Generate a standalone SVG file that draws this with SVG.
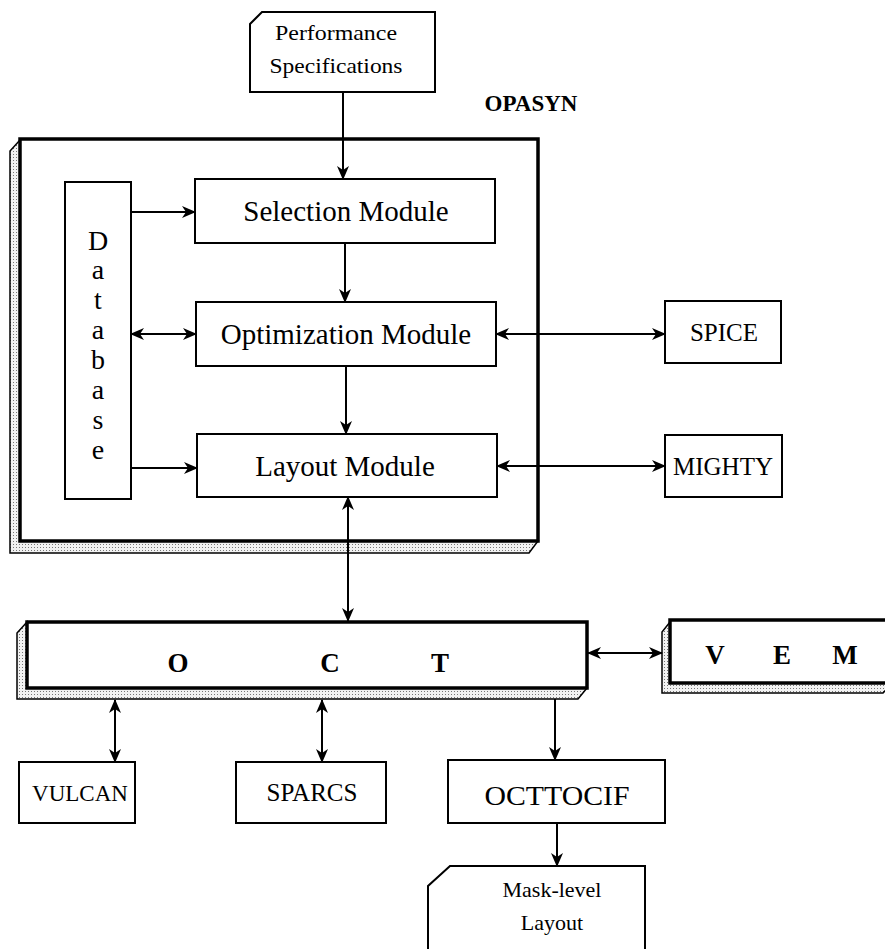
<svg xmlns="http://www.w3.org/2000/svg" width="885" height="949" viewBox="0 0 885 949">
<style>
  .box{fill:#fff;stroke:#000;stroke-width:2}
  .thick{fill:#fff;stroke:#000;stroke-width:3.5}
  .shadow{fill:url(#dots);stroke:#000;stroke-width:1.5}
  .t{font-family:"Liberation Serif","Times New Roman",serif;fill:#000;text-anchor:middle}
  .m{font-size:29px}
  .s{font-size:25px}
  .b{font-weight:bold}
  .ln{stroke:#000;stroke-width:2;fill:none}
</style>
<defs>
  <pattern id="dots" width="3" height="3" patternUnits="userSpaceOnUse">
    <rect width="3" height="3" fill="#f2f2f2"/>
    <rect x="1" y="1" width="1" height="1" fill="#777"/>
  </pattern>
  <marker id="ah" viewBox="0 0 14 12" refX="13" refY="6" markerWidth="14" markerHeight="12" markerUnits="userSpaceOnUse" orient="auto-start-reverse">
    <path d="M0,0 L14,6 L0,12 L4,6 z" fill="#000"/>
  </marker>
</defs>

<g id="perf-spec">
  <path class="box" d="M262,12 L435,12 L435,92 L250,92 L250,24 z"/>
  <text class="t" x="336" y="40" font-size="22" textLength="122" lengthAdjust="spacingAndGlyphs">Performance</text>
  <text class="t" x="336" y="73" font-size="22" textLength="133" lengthAdjust="spacingAndGlyphs">Specifications</text>
</g>

<g id="opasyn-label">
  <text class="t b" x="531" y="111" font-size="23">OPASYN</text>
</g>

<g id="opasyn-frame">
  <path class="shadow" d="M20,140 L10,151 L10,553 L529,553 L538,541 L20,541 z"/>
  <rect class="thick" x="20" y="139" width="518" height="402"/>
</g>

<g id="database">
  <rect class="box" x="65" y="182" width="66" height="317"/>
  <text class="t" font-size="28" x="98" y="250">D<tspan x="98" dy="29">a</tspan><tspan x="98" dy="30">t</tspan><tspan x="98" dy="30">a</tspan><tspan x="98" dy="30">b</tspan><tspan x="98" dy="30">a</tspan><tspan x="98" dy="30">s</tspan><tspan x="98" dy="30">e</tspan></text>
</g>

<g id="selection">
  <rect class="box" x="195" y="179" width="300" height="64"/>
  <text class="t m" x="346" y="221">Selection Module</text>
</g>

<g id="optimization">
  <rect class="box" x="196" y="302" width="300" height="64"/>
  <text class="t m" x="346" y="344">Optimization Module</text>
</g>

<g id="layout">
  <rect class="box" x="197" y="434" width="300" height="63"/>
  <text class="t m" x="345" y="476">Layout Module</text>
</g>

<g id="spice">
  <rect class="box" x="665" y="301" width="116" height="62"/>
  <text class="t s" x="724" y="341">SPICE</text>
</g>

<g id="mighty">
  <rect class="box" x="665" y="435" width="117" height="62"/>
  <text class="t s" x="723" y="475">MIGHTY</text>
</g>

<g id="oct">
  <path class="shadow" d="M27,622 L17,633 L17,699 L578,699 L587,688 L27,688 z"/>
  <rect class="thick" x="27" y="622" width="560" height="66"/>
  <text class="t b" x="178" y="672" font-size="27">O</text>
  <text class="t b" x="330" y="672" font-size="27">C</text>
  <text class="t b" x="440" y="672" font-size="27">T</text>
</g>

<g id="vem">
  <path class="shadow" d="M670,622 L662,632 L662,693 L883,693 L892,683 L670,683 z"/>
  <rect class="thick" x="670" y="620" width="230" height="63"/>
  <text class="t b" x="715" y="664" font-size="27">V</text>
  <text class="t b" x="782" y="664" font-size="27">E</text>
  <text class="t b" x="845" y="664" font-size="27">M</text>
</g>

<g id="vulcan">
  <rect class="box" x="19" y="762" width="116" height="61"/>
  <text class="t" x="80" y="801" font-size="23">VULCAN</text>
</g>

<g id="sparcs">
  <rect class="box" x="236" y="762" width="150" height="61"/>
  <text class="t s" x="312" y="801">SPARCS</text>
</g>

<g id="octtocif">
  <rect class="box" x="448" y="760" width="217" height="63"/>
  <text class="t" x="557" y="805" font-size="27" textLength="145" lengthAdjust="spacingAndGlyphs">OCTTOCIF</text>
</g>

<g id="mask-layout">
  <path class="box" d="M450,866 L645,866 L645,960 L428,960 L428,886 z"/>
  <text class="t" x="552" y="897" font-size="22">Mask-level</text>
  <text class="t" x="552" y="930" font-size="22">Layout</text>
</g>

<g id="connectors">
  <line class="ln" x1="343" y1="92" x2="343" y2="179" marker-end="url(#ah)"/>
  <line class="ln" x1="131" y1="212" x2="195" y2="212" marker-end="url(#ah)"/>
  <line class="ln" x1="345" y1="243" x2="345" y2="302" marker-end="url(#ah)"/>
  <line class="ln" x1="131" y1="334" x2="196" y2="334" marker-start="url(#ah)" marker-end="url(#ah)"/>
  <line class="ln" x1="496" y1="334" x2="665" y2="334" marker-start="url(#ah)" marker-end="url(#ah)"/>
  <line class="ln" x1="346" y1="366" x2="346" y2="434" marker-end="url(#ah)"/>
  <line class="ln" x1="131" y1="468" x2="197" y2="468" marker-end="url(#ah)"/>
  <line class="ln" x1="497" y1="466" x2="665" y2="466" marker-start="url(#ah)" marker-end="url(#ah)"/>
  <line class="ln" x1="348" y1="497" x2="348" y2="621" marker-start="url(#ah)" marker-end="url(#ah)"/>
  <line class="ln" x1="588" y1="653" x2="662" y2="653" marker-start="url(#ah)" marker-end="url(#ah)"/>
  <line class="ln" x1="115" y1="700" x2="115" y2="762" marker-start="url(#ah)" marker-end="url(#ah)"/>
  <line class="ln" x1="322" y1="700" x2="322" y2="762" marker-start="url(#ah)" marker-end="url(#ah)"/>
  <line class="ln" x1="555" y1="699" x2="555" y2="760" marker-end="url(#ah)"/>
  <line class="ln" x1="557" y1="823" x2="557" y2="866" marker-end="url(#ah)"/>
</g>
</svg>
